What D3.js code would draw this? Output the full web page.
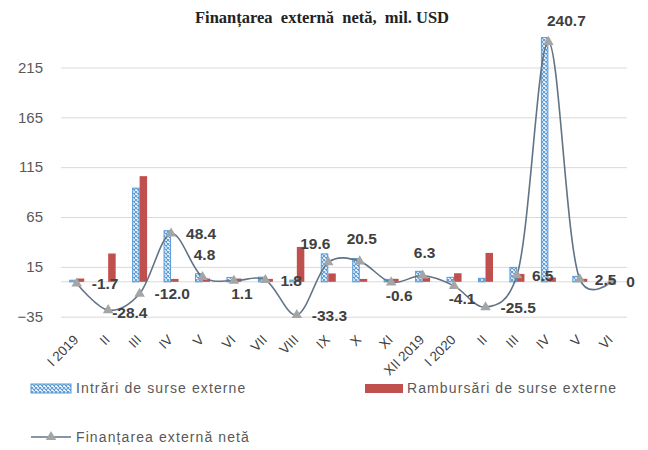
<!DOCTYPE html>
<html>
<head>
<meta charset="utf-8">
<script src="https://cdn.jsdelivr.net/npm/d3@7"></script>
<style>
  body { margin: 0; background: #fff; }
  svg { font-family: "Liberation Sans", Arial, sans-serif; }
</style>
</head>
<body>
<div id="chart"></div>
<script>
var categories = ["I 2019", "II", "III", "IV", "V", "VI", "VII", "VIII", "IX", "X", "XI",
                  "XII 2019", "I 2020", "II", "III", "IV", "V", "VI"];
var intrari    = [1.6, 0, 94.0, 51.3, 8.1, 4.4, 4.7, 1.7, 28.0, 23.4, 2.4, 10.5, 4.5, 3.5, 14.4, 245.0, 5.5, 0];
var rambursari = [3.3, 28.4, 106.0, 2.9, 3.3, 3.3, 2.9, 35.0, 8.4, 2.9, 3.0, 4.2, 8.6, 29.0, 7.9, 4.3, 3.0, 0];
var netFin     = [-1.7, -28.4, -12.0, 48.4, 4.8, 1.1, 1.8, -33.3, 19.6, 20.5, -0.6, 6.3, -4.1, -25.5, 6.5, 240.7, 2.5, 0];
var yTicks     = [215, 165, 115, 65, 15, -35];
// where each data label sits relative to its marker
var labelPlace = ["r", "rn", "r", "r", "a", "b", "r", "r", "al", "a", "b", "a", "b", "r", "r", "top", "r", "r"];

var WIDTH = 648, HEIGHT = 450;
var plot = {left: 61, right: 627, top: 32.5, bottom: 316.7};

var svg = d3.select("#chart").append("svg")
    .attr("width", WIDTH)
    .attr("height", HEIGHT);

/* Pattern for the inflows bars */
var defs = svg.append("defs");
var pat = defs.append("pattern")
    .attr("id", "lattice")
    .attr("patternUnits", "userSpaceOnUse")
    .attr("width", 4)
    .attr("height", 4);
pat.append("rect").attr("width", 4).attr("height", 4).attr("fill", "#ffffff");
pat.append("path")
    .attr("d", "M0,0L4,4M4,0L0,4")
    .attr("stroke", "#5b9bd5")
    .attr("stroke-width", 1.1);

/* Scales */
var idx = d3.range(categories.length);
var step = (plot.right - plot.left) / categories.length;
var inner = 1 - 15 / step;
var x0 = d3.scaleBand()
    .domain(idx)
    .range([plot.left, plot.right])
    .paddingInner(inner)
    .paddingOuter(inner / 2);
var x1 = d3.scaleBand()
    .domain(["in", "out"])
    .range([0, x0.bandwidth()]);
var y = d3.scaleLinear()
    .domain([-35, 250])
    .range([plot.bottom, plot.bottom - 285 * (249.2 / 250)]);

function cx(i){ return x0(i) + x0.bandwidth() / 2; }

/* Title */
svg.append("text")
    .attr("x", 322)
    .attr("y", 23)
    .attr("text-anchor", "middle")
    .attr("font-family", "'Liberation Serif', 'DejaVu Serif', serif")
    .attr("font-size", 16.5)
    .attr("font-weight", "bold")
    .attr("fill", "#222")
    .attr("xml:space", "preserve")
    .style("white-space", "pre")
    .text("Finanțarea  externă  netă,  mil. USD");

/* Y axis with grid lines */
var yAxis = d3.axisLeft(y)
    .tickValues(yTicks)
    .tickSize(-(plot.right - plot.left))
    .tickPadding(18)
    .tickFormat(d3.format("d"));
var gy = svg.append("g")
    .attr("transform", "translate(" + plot.left + ",0)")
    .call(yAxis);
gy.select(".domain").remove();
gy.selectAll("line").attr("stroke", "#d9d9d9").attr("stroke-width", 1);
gy.selectAll("text")
    .attr("font-size", 15)
    .attr("fill", "#595959");

/* Category axis line at zero */
svg.append("line")
    .attr("x1", plot.left).attr("x2", plot.right)
    .attr("y1", y(0)).attr("y2", y(0))
    .attr("stroke", "#d9d9d9");

/* X axis labels */
var xAxis = d3.axisBottom(x0)
    .tickSize(0)
    .tickFormat(function(i){ return categories[i]; });
var gx = svg.append("g")
    .attr("transform", "translate(0," + plot.bottom + ")")
    .call(xAxis);
gx.select(".domain").remove();
gx.selectAll("text")
    .attr("y", 0)
    .attr("dy", 0)
    .attr("transform", "translate(2.5,24) rotate(-45)")
    .attr("text-anchor", "end")
    .attr("font-size", 13.5)
    .attr("fill", "#404040");

/* Bars */
var bars = svg.append("g");
bars.selectAll(".bin")
    .data(intrari)
    .enter()
    .append("rect")
        .attr("class", "bin")
        .attr("x", function(d, i){ return x0(i) + x1("in") + 0.5; })
        .attr("width", x1.bandwidth() - 1)
        .attr("y", function(d){ return y(d); })
        .attr("height", function(d){ return y(0) - y(d); })
        .attr("fill", "url(#lattice)")
        .attr("stroke", function(d){ return d > 0 ? "#5b9bd5" : "none"; })
        .attr("stroke-width", 1);
bars.selectAll(".bout")
    .data(rambursari)
    .enter()
    .append("rect")
        .attr("class", "bout")
        .attr("x", function(d, i){ return x0(i) + x1("out"); })
        .attr("width", x1.bandwidth())
        .attr("y", function(d){ return y(d); })
        .attr("height", function(d){ return y(0) - y(d); })
        .attr("fill", "#c0504d");

/* Net financing line - smoothed */
var line = d3.line()
    .curve(d3.curveCatmullRom.alpha(0.2))
    .x(function(d, i){ return cx(i); })
    .y(function(d){ return y(d); });
svg.append("path")
    .attr("d", line(netFin))
    .attr("fill", "none")
    .attr("stroke", "#627385")
    .attr("stroke-width", 1.6);

var tri = d3.symbol().type(d3.symbolTriangle).size(48);
svg.selectAll(".marker")
    .data(netFin)
    .enter()
    .append("path")
        .attr("class", "marker")
        .attr("d", tri)
        .attr("transform", function(d, i){ return "translate(" + cx(i) + "," + y(d) + ")"; })
        .attr("fill", "#a5a5a5");

/* Data labels */
var place = {
    r:   {dx: 15, dy: 0, anchor: "start"},
    rn:  {dx: 4, dy: 2, anchor: "start"},
    a:   {dx: 2, dy: -23, anchor: "middle"},
    al:  {dx: -13, dy: -19, anchor: "middle"},
    b:   {dx: 8, dy: 13, anchor: "middle"},
    top: {dx: 18, dy: -21, anchor: "middle"}
};
svg.selectAll(".dlabel")
    .data(netFin)
    .enter()
    .append("text")
        .attr("class", "dlabel")
        .attr("x", function(d, i){ return cx(i) + place[labelPlace[i]].dx; })
        .attr("y", function(d, i){ return y(d) + place[labelPlace[i]].dy; })
        .attr("dy", "0.36em")
        .attr("text-anchor", function(d, i){ return place[labelPlace[i]].anchor; })
        .attr("font-size", 15.5)
        .attr("font-weight", "bold")
        .attr("fill", "#404040")
        .text(function(d){ return d === 0 ? "0" : d.toFixed(1); });

/* Legend */
var legend = svg.append("g")
    .attr("font-size", 14)
    .attr("fill", "#595959")
    .style("letter-spacing", "1.1px");

legend.append("rect")
    .attr("x", 31).attr("y", 384).attr("width", 40).attr("height", 9)
    .attr("fill", "url(#lattice)").attr("stroke", "#5b9bd5");
legend.append("text").attr("x", 76).attr("y", 393).text("Intrări de surse externe");

legend.append("rect")
    .attr("x", 365).attr("y", 384).attr("width", 38).attr("height", 9)
    .attr("fill", "#c0504d");
legend.append("text").attr("x", 407).attr("y", 393).text("Rambursări de surse externe");

legend.append("line")
    .attr("x1", 31).attr("x2", 71).attr("y1", 437).attr("y2", 437)
    .attr("stroke", "#627385").attr("stroke-width", 1.6);
legend.append("path")
    .attr("d", tri)
    .attr("transform", "translate(51,437)")
    .attr("fill", "#a5a5a5");
legend.append("text").attr("x", 76).attr("y", 442).text("Finanțarea externă netă");
</script>
</body>
</html>
